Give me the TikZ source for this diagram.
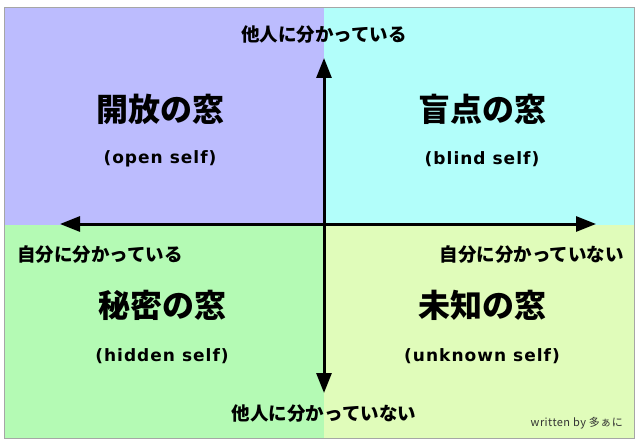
\documentclass[tikz,border=0pt]{standalone}
\usepackage{fontspec}
\setmainfont{DejaVu Sans}
\newfontfamily\jp{Noto Sans CJK JP}
\usetikzlibrary{arrows.meta}
\definecolor{qtl}{RGB}{188,188,254}
\definecolor{qtr}{RGB}{178,254,250}
\definecolor{qbl}{RGB}{180,250,180}
\definecolor{qbr}{RGB}{224,252,186}
\tikzset{
  title/.style={font=\jp\bfseries\fontsize{32}{34}\selectfont, inner sep=0pt},
  sub/.style={font=\bfseries\fontsize{17}{20}\selectfont\addfontfeatures{LetterSpace=6}, inner sep=0pt},
  axlabel/.style={font=\jp\bfseries\fontsize{18.5}{20}\selectfont, inner sep=0pt},
  axis/.style={line width=3pt, -{Triangle[width=15pt,length=20pt]}},
}
\begin{document}
\begin{tikzpicture}[x=1pt,y=-1pt]
\useasboundingbox (0,0) rectangle (637,441);
\fill[white] (0,0) rectangle (637,441);
\fill[qtl] (4,7) rectangle (324,225);
\fill[qtr] (324,7) rectangle (634,225);
\fill[qbl] (4,225) rectangle (324,438);
\fill[qbr] (324,225) rectangle (634,438);
\draw[gray!70, line width=0.8pt] (4,7) rectangle (634,438);
\coordinate (c) at (324,224);
\coordinate (top) at (324,58);
\coordinate (bot) at (324,393);
\coordinate (lft) at (60,224);
\coordinate (rgt) at (596,224);
\draw[axis] (c) -- (top);
\draw[axis] (c) -- (bot);
\draw[axis] (c) -- (lft);
\draw[axis] (c) -- (rgt);
\node[axlabel] (otk) at (324,35) {他人に分かっている};
\node[axlabel] (onk) at (324,414) {他人に分かっていない};
\node[axlabel, anchor=west] (sk) at (17,255) {自分に分かっている};
\node[axlabel, anchor=east] (snk) at (624,255) {自分に分かっていない};
\node[title] (t1) at (160,109) {開放の窓};
\node[sub] (s1) at (160,159) {(open self)};
\node[title] (t2) at (482,109) {盲点の窓};
\node[sub] (s2) at (482,159) {(blind self)};
\node[title] (t3) at (162,305) {秘密の窓};
\node[sub] (s3) at (162,356) {(hidden self)};
\node[title] (t4) at (482,305) {未知の窓};
\node[sub] (s4) at (482,356) {(unknown self)};
\node[font=\jp\fontsize{11}{12}\selectfont\addfontfeatures{LetterSpace=4}, anchor=east, inner sep=0pt, text=black!80] (w) at (623,423) {written by 多ぁに};
\end{tikzpicture}
\end{document}
